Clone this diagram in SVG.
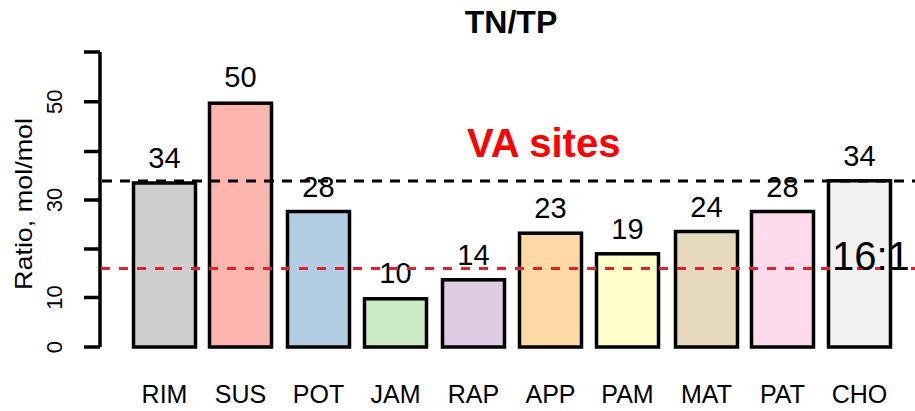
<svg xmlns="http://www.w3.org/2000/svg" width="915" height="411" viewBox="0 0 915 411">
  <style>
    text { font-family: "Liberation Sans", Arial, sans-serif; fill: #000; }
    .title { font-size: 32px; font-weight: bold; text-anchor: middle; }
    .tick { font-size: 22px; text-anchor: middle; }
    .ytitle { font-size: 24px; text-anchor: middle; }
    .val { font-size: 29px; text-anchor: middle; }
    .cat { font-size: 25px; text-anchor: middle; }
    .bar { stroke: #000; stroke-width: 3.5; }
    .axis { stroke: #000; stroke-width: 3.5; fill: none; }
    .ref-black { stroke: #000; stroke-width: 3; stroke-dasharray: 10 8; }
    .ref-red { stroke: #e2202a; stroke-width: 3; stroke-dasharray: 9 9; }
    .note { font-size: 40px; font-weight: bold; fill: #ff0000; }
    .ratio { font-size: 40px; }
  </style>

  <rect width="915" height="411" fill="#fff"/>

  <text class="title" x="511" y="33">TN/TP</text>

  <!-- y axis -->
  <g id="y-axis">
    <path class="axis" d="M100,52 V347 M84,347 H100 M84,297.5 H100 M84,249 H100 M84,200 H100 M84,151.5 H100 M84,101.7 H100 M84,52 H100"/>
    <text class="tick" transform="translate(62,347) rotate(-90)">0</text>
    <text class="tick" transform="translate(62,297.5) rotate(-90)">10</text>
    <text class="tick" transform="translate(62,200) rotate(-90)">30</text>
    <text class="tick" transform="translate(62,101.7) rotate(-90)">50</text>
    <text class="ytitle" transform="translate(32,204) rotate(-90)" textLength="172" lengthAdjust="spacingAndGlyphs">Ratio, mol/mol</text>
  </g>

  <!-- bars -->
  <g id="bar-RIM">
    <rect class="bar" x="133.5" y="183" width="62" height="164" fill="#cfcfcf"/>
    <text class="val" x="164.5" y="168">34</text>
    <text class="cat" x="164.5" y="403">RIM</text>
  </g>
  <g id="bar-SUS">
    <rect class="bar" x="209.5" y="103.2" width="62" height="243.8" fill="#fbb4ae"/>
    <text class="val" x="240.5" y="87">50</text>
    <text class="cat" x="240.5" y="403">SUS</text>
  </g>
  <g id="bar-POT">
    <rect class="bar" x="287.5" y="211.5" width="62" height="135.5" fill="#b3cde3"/>
    <text class="val" x="318.5" y="197">28</text>
    <text class="cat" x="318.5" y="403">POT</text>
  </g>
  <g id="bar-JAM">
    <rect class="bar" x="364.5" y="298.8" width="62" height="48.2" fill="#ccebc5"/>
    <text class="val" x="395.5" y="283">10</text>
    <text class="cat" x="395.5" y="403">JAM</text>
  </g>
  <g id="bar-RAP">
    <rect class="bar" x="442.5" y="279.8" width="62" height="67.2" fill="#decbe4"/>
    <text class="val" x="473.5" y="264.5">14</text>
    <text class="cat" x="473.5" y="403">RAP</text>
  </g>
  <g id="bar-APP">
    <rect class="bar" x="519.5" y="233.2" width="62" height="113.8" fill="#fed9a6"/>
    <text class="val" x="550.5" y="218">23</text>
    <text class="cat" x="550.5" y="403">APP</text>
  </g>
  <g id="bar-PAM">
    <rect class="bar" x="596.5" y="253.8" width="62" height="93.2" fill="#ffffcc"/>
    <text class="val" x="627.5" y="238.5">19</text>
    <text class="cat" x="627.5" y="403">PAM</text>
  </g>
  <g id="bar-MAT">
    <rect class="bar" x="675.5" y="231.5" width="62" height="115.5" fill="#e5d8bd"/>
    <text class="val" x="706.5" y="216.5">24</text>
    <text class="cat" x="706.5" y="403">MAT</text>
  </g>
  <g id="bar-PAT">
    <rect class="bar" x="751.5" y="211.5" width="62" height="135.5" fill="#fddaec"/>
    <text class="val" x="782.5" y="197">28</text>
    <text class="cat" x="782.5" y="403">PAT</text>
  </g>
  <g id="bar-CHO">
    <rect class="bar" x="828.5" y="180.8" width="62" height="166.2" fill="#f2f2f2"/>
    <text class="val" x="859.5" y="165.5">34</text>
    <text class="cat" x="859.5" y="403">CHO</text>
  </g>

  <!-- reference ratio lines -->
  <g id="connectors">
    <line class="ref-black" x1="102" y1="181" x2="915" y2="181"/>
    <line class="ref-red" x1="101" y1="268.5" x2="915" y2="268.5"/>
  </g>

  <text class="note" x="467" y="157">VA sites</text>
  <text class="ratio" x="832" y="270">16:1</text>
</svg>
